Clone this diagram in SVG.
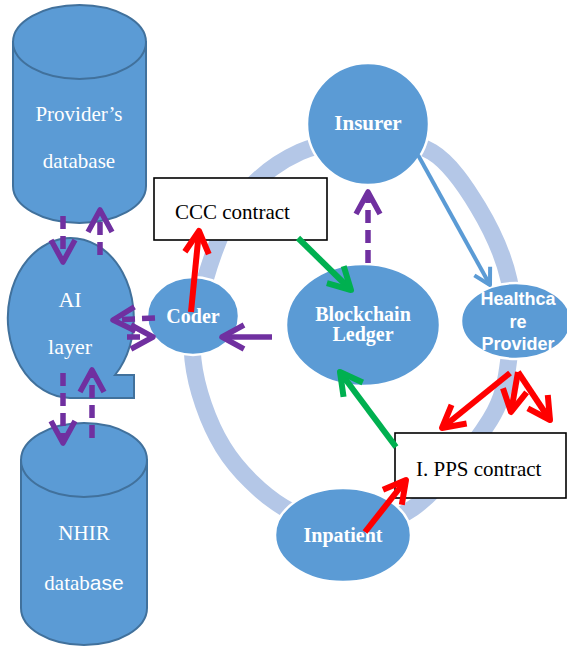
<svg xmlns="http://www.w3.org/2000/svg" width="567" height="647" viewBox="0 0 567 647">
<style>
.db{fill:#5b9bd5;stroke:#41719c;stroke-width:2}
.nd{fill:#5b9bd5;stroke:#ffffff;stroke-width:2.5}
.box{fill:#ffffff;stroke:#000000;stroke-width:1.6}
.wt{fill:#ffffff;font-family:"Liberation Serif",serif;text-anchor:middle}
.wb{fill:#ffffff;font-family:"Liberation Serif",serif;font-weight:bold;text-anchor:middle}
.ws{fill:#ffffff;font-family:"Liberation Sans",Arial,sans-serif;font-weight:bold;text-anchor:middle;font-size:18px}
.bt{fill:#000000;font-family:"Liberation Serif",serif;font-size:21px}
.pu{stroke:#7030a0;stroke-width:5.5;fill:none;marker-end:url(#mp)}
.dash{stroke-dasharray:13 7}
.rd{stroke:#ff0000;stroke-width:6;fill:none;marker-end:url(#mr)}
.gr{stroke:#00b050;stroke-width:6;fill:none;marker-end:url(#mg)}
.bl{stroke:#5b9bd5;stroke-width:4;fill:none;marker-end:url(#mb)}
</style>
<defs>
<marker id="mp" markerUnits="userSpaceOnUse" viewBox="-30 -16 34 32" markerWidth="34" markerHeight="32" refX="0" refY="0" orient="auto"><path d="M-22,-12 L0,0 L-22,12" fill="none" stroke="#7030a0" stroke-width="5.5" stroke-linejoin="round"/></marker>
<marker id="mr" markerUnits="userSpaceOnUse" viewBox="-30 -16 34 32" markerWidth="34" markerHeight="32" refX="0" refY="0" orient="auto"><path d="M-22,-12 L0,0 L-22,12" fill="none" stroke="#ff0000" stroke-width="6" stroke-linejoin="round"/></marker>
<marker id="mg" markerUnits="userSpaceOnUse" viewBox="-30 -16 34 32" markerWidth="34" markerHeight="32" refX="0" refY="0" orient="auto"><path d="M-22,-12 L0,0 L-22,12" fill="none" stroke="#00b050" stroke-width="6" stroke-linejoin="round"/></marker>
<marker id="mb" markerUnits="userSpaceOnUse" viewBox="-24 -12 28 24" markerWidth="28" markerHeight="24" refX="0" refY="0" orient="auto"><path d="M-16,-9 L0,0 L-16,9" fill="none" stroke="#5b9bd5" stroke-width="4" stroke-linejoin="round"/></marker>
</defs>

<g id="ring">
<path d="M370,141 C392,141 414,141 432,152 C450,163 465.2,185.7 478,207 C490.8,228.3 503.7,256.2 509,280 C514.3,303.8 513.2,326.7 510,350 C506.8,373.3 506.2,393.7 490,420 C473.8,446.3 437.2,491 413,508 C388.8,525 366.7,522.2 345,522 C323.3,521.8 303.3,519.5 283,507 C262.7,494.5 238,471.5 223,447 C208,422.5 196,387.8 193,360 C190,332.2 197.2,306.7 205,280 C212.8,253.3 224.2,221.3 240,200 C255.8,178.7 278.3,161.8 300,152 C321.7,142.2 348,141 370,141 Z" fill="none" stroke="#b4c7e7" stroke-width="17"/>
</g>

<g id="providers-db">
<path class="db" d="M13,42 L13,186 A66.5 37 0 0 0 146,186 L146,42 Z"/>
<ellipse class="db" cx="79.5" cy="42" rx="66.5" ry="37"/>
<text class="wt" x="79" y="121" font-size="21">Provider’s</text>
<text class="wt" x="79" y="168" font-size="21">database</text>
</g>

<g id="ai-layer">
<path class="db" d="M115,375 A63 80 0 1 0 70,398 L134,398 L134,375 Z"/>
<text class="wt" x="70" y="307" font-size="22">AI</text>
<text class="wt" x="70" y="354" font-size="22">layer</text>
</g>

<g id="nhir-db">
<path class="db" d="M21,460 L21,608 A63 37 0 0 0 147,608 L147,460 Z"/>
<ellipse class="db" cx="84" cy="460" rx="63" ry="37"/>
<text class="wt" x="84" y="540" font-size="21">NHIR</text>
<text class="wt" x="84" y="590" font-size="21">datab<tspan font-family="'Liberation Sans',Arial,sans-serif">ase</tspan></text>
</g>

<g id="insurer">
<circle class="nd" cx="368" cy="124" r="61"/>
<text class="wb" x="368" y="130" font-size="21">Insurer</text>
</g>

<g id="blockchain">
<ellipse class="nd" cx="363" cy="325" rx="77" ry="61"/>
<text class="wb" x="363" y="321" font-size="20">Blockchain</text>
<text class="wb" x="363" y="341" font-size="20">Ledger</text>
</g>

<g id="coder">
<ellipse class="nd" cx="193" cy="316" rx="46" ry="39"/>
<text class="wb" x="193" y="323" font-size="20">Coder</text>
</g>

<g id="healthcare">
<ellipse class="nd" cx="516" cy="321" rx="55" ry="38"/>
<text class="ws" x="518" y="305">Healthca</text>
<text class="ws" x="518" y="328">re</text>
<text class="ws" x="518" y="350">Provider</text>
</g>

<g id="inpatient">
<ellipse class="nd" cx="343" cy="535" rx="68" ry="47"/>
<text class="wb" x="343" y="542" font-size="20">Inpatient</text>
</g>

<g id="ccc-contract">
<rect class="box" x="154" y="178" width="173" height="62"/>
<text class="bt" x="175" y="219">CCC contract</text>
</g>

<g id="pps-contract">
<rect class="box" x="395" y="433" width="171" height="65"/>
<text class="bt" x="416" y="476">I. PPS contract</text>
</g>

<g id="connectors">
<line class="pu dash" x1="63" y1="216" x2="63" y2="262"/>
<line class="pu dash" x1="100" y1="255" x2="100" y2="210"/>
<line class="pu dash" x1="63" y1="373" x2="63" y2="443"/>
<line class="pu dash" x1="92" y1="438" x2="92" y2="370"/>
<line class="pu dash" x1="155" y1="318" x2="113" y2="320"/>
<line class="pu dash" x1="127" y1="337" x2="153" y2="337"/>
<line class="pu" x1="272" y1="337" x2="222" y2="337"/>
<line class="pu dash" x1="368" y1="263" x2="368" y2="192"/>
<line class="rd" x1="191" y1="312" x2="199" y2="231"/>
<line class="rd" x1="365" y1="532" x2="406" y2="480"/>
<line class="rd" x1="510" y1="373" x2="442" y2="428"/>
<line class="rd" x1="518" y1="372" x2="511" y2="412"/>
<line class="rd" x1="518" y1="372" x2="550" y2="420"/>
<line class="gr" x1="298" y1="238" x2="351" y2="290"/>
<line class="gr" x1="396" y1="447" x2="340" y2="372"/>
<line class="bl" x1="418" y1="155" x2="490" y2="285"/>
</g>
</svg>
